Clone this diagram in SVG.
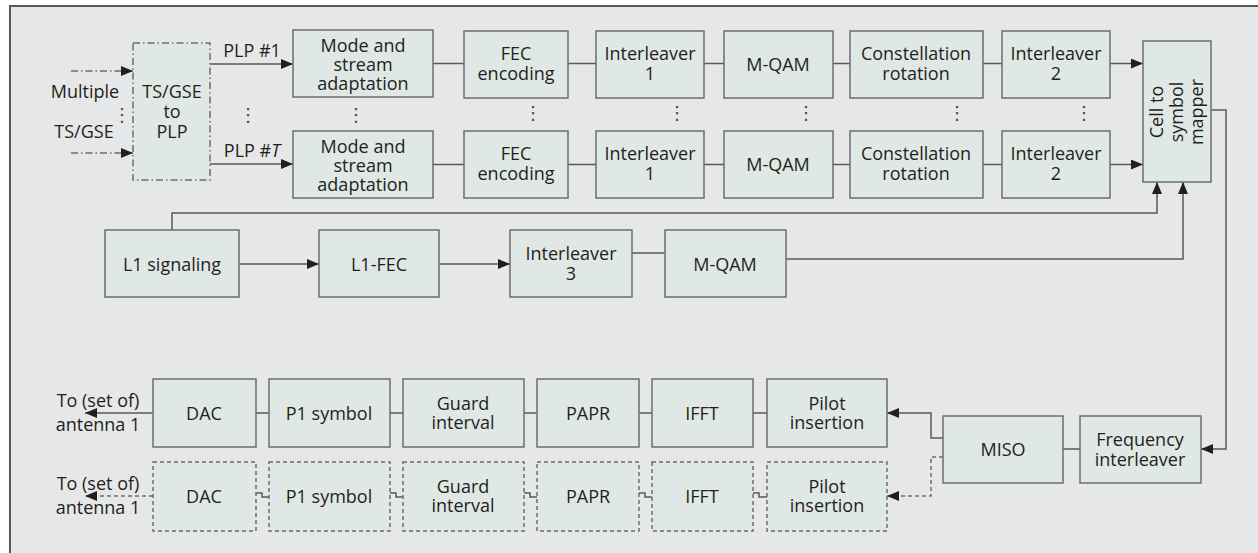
<svg xmlns="http://www.w3.org/2000/svg" width="1258" height="553" viewBox="0 0 1258 553">
  <defs>
    <marker id="arrow" markerUnits="userSpaceOnUse" markerWidth="13" markerHeight="10" refX="12" refY="5" orient="auto">
      <path d="M0,0 L12,5 L0,10 z" fill="#231f20"/>
    </marker>
    <style>
      .box { fill: #dfe8e4; stroke: #6d6e71; stroke-width: 1.5; }
      .dbox { fill: #dfe8e4; stroke: #6d6e71; stroke-width: 1.5; stroke-dasharray: 4 3; }
      .ddbox { fill: #dfe8e4; stroke: #6d6e71; stroke-width: 1.5; stroke-dasharray: 7 3 1.5 3; }
      .ln { fill: none; stroke: #58595b; stroke-width: 1.5; }
      .dln { fill: none; stroke: #6d6e71; stroke-width: 1.5; stroke-dasharray: 4 3; }
      .ddln { fill: none; stroke: #6d6e71; stroke-width: 1.5; stroke-dasharray: 7 3 1.5 3; }
      text { font-family: "Open Sans", "Noto Sans", sans-serif; font-size: 18px; fill: #231f20; text-anchor: middle; }
      .dots { font-family: "DejaVu Sans", sans-serif; font-size: 18px; fill: #414042; }
    </style>
  </defs>

  <!-- panel background and frame -->
  <rect x="0" y="0" width="1258" height="553" fill="#ffffff"/>
  <rect x="10" y="6" width="1248" height="547" fill="#e6e7e8"/>
  <path d="M10,553 V6 H1258" fill="none" stroke="#58595b" stroke-width="2"/>

  <!-- connectors -->
  <g id="connectors">
    <!-- inputs -->
    <path class="ddln" d="M71,71 H133" marker-end="url(#arrow)"/>
    <path class="ddln" d="M71,153 H133" marker-end="url(#arrow)"/>
    <!-- PLP outputs -->
    <path class="ln" d="M210,64 H293" marker-end="url(#arrow)"/>
    <path class="ln" d="M210,164 H293" marker-end="url(#arrow)"/>
    <!-- PLP chain 1 -->
    <path class="ln" d="M433,63.5 H464 M568,63.5 H596 M704,63.5 H724 M833,63.5 H850 M983,63.5 H1002"/>
    <path class="ln" d="M1110,63.5 H1143" marker-end="url(#arrow)"/>
    <!-- PLP chain T -->
    <path class="ln" d="M433,164.5 H464 M568,164.5 H596 M704,164.5 H724 M833,164.5 H850 M983,164.5 H1002"/>
    <path class="ln" d="M1110,164.5 H1143" marker-end="url(#arrow)"/>
    <!-- L1 path -->
    <path class="ln" d="M172,230 V213 H1157 V182" marker-end="url(#arrow)"/>
    <path class="ln" d="M239,264 H319" marker-end="url(#arrow)"/>
    <path class="ln" d="M439,264 H510" marker-end="url(#arrow)"/>
    <path class="ln" d="M632,253 H665"/>
    <path class="ln" d="M786,259 H1183 V182" marker-end="url(#arrow)"/>
    <!-- mapper to frequency interleaver -->
    <path class="ln" d="M1211,110 H1226 V449 H1201" marker-end="url(#arrow)"/>
    <path class="ln" d="M1063,449 H1080"/>
    <!-- MISO outputs -->
    <path class="ln" d="M943,438 H931 V413 H887" marker-end="url(#arrow)"/>
    <path class="dln" d="M943,457 H931 V496 H887" marker-end="url(#arrow)"/>
    <!-- transmitter chain 1 -->
    <path class="ln" d="M256,413 H269 M390,413 H403 M524,413 H537 M639,413 H652 M753,413 H767"/>
    <path class="ln" d="M153,413 H85" marker-end="url(#arrow)"/>
    <!-- transmitter chain 2 -->
    <path class="ln" d="M256,493 H262 V497 H269 M390,493 H396 V497 H403 M524,493 H530 V497 H537 M639,493 H645 V497 H652 M753,493 H759 V497 H767"/>
    <path class="dln" d="M153,496 H85" marker-end="url(#arrow)"/>
  </g>

  <!-- input labels -->
  <g id="inputs">
    <text x="85" y="98">Multiple</text>
    <text x="84" y="138">TS/GSE</text>
    <text class="dots" x="122" y="121">⋮</text>
  </g>

  <g id="ts-gse-to-plp">
    <rect class="ddbox" x="133" y="43" width="77" height="137"/>
    <text x="172" y="98">TS/GSE</text>
    <text x="172" y="118">to</text>
    <text x="172" y="138">PLP</text>
  </g>

  <g id="plp-labels">
    <text x="252" y="57">PLP #1</text>
    <text x="252" y="157">PLP #<tspan font-style="italic">T</tspan></text>
    <text class="dots" x="248" y="121">⋮</text>
  </g>

  <!-- PLP chain 1 -->
  <g id="mode-1">
    <rect class="box" x="293" y="30" width="140" height="67"/>
    <text x="363" y="52">Mode and</text>
    <text x="363" y="71">stream</text>
    <text x="363" y="90">adaptation</text>
  </g>
  <g id="fec-1">
    <rect class="box" x="464" y="31" width="104" height="67"/>
    <text x="516" y="60">FEC</text>
    <text x="516" y="80">encoding</text>
  </g>
  <g id="interleaver1-1">
    <rect class="box" x="596" y="31" width="108" height="67"/>
    <text x="650" y="60">Interleaver</text>
    <text x="650" y="80">1</text>
  </g>
  <g id="mqam-1">
    <rect class="box" x="724" y="31" width="109" height="67"/>
    <text x="778" y="71">M-QAM</text>
  </g>
  <g id="rotation-1">
    <rect class="box" x="850" y="31" width="133" height="67"/>
    <text x="916" y="60">Constellation</text>
    <text x="916" y="80">rotation</text>
  </g>
  <g id="interleaver2-1">
    <rect class="box" x="1002" y="31" width="108" height="67"/>
    <text x="1056" y="60">Interleaver</text>
    <text x="1056" y="80">2</text>
  </g>

  <!-- row separators -->
  <g id="ellipses">
    <text class="dots" x="356" y="121">⋮</text>
    <text class="dots" x="533" y="119">⋮</text>
    <text class="dots" x="677" y="119">⋮</text>
    <text class="dots" x="806" y="119">⋮</text>
    <text class="dots" x="957" y="119">⋮</text>
    <text class="dots" x="1084" y="119">⋮</text>
  </g>

  <!-- PLP chain T -->
  <g id="mode-t">
    <rect class="box" x="293" y="131" width="140" height="67"/>
    <text x="363" y="153">Mode and</text>
    <text x="363" y="172">stream</text>
    <text x="363" y="191">adaptation</text>
  </g>
  <g id="fec-t">
    <rect class="box" x="464" y="131" width="104" height="67"/>
    <text x="516" y="160">FEC</text>
    <text x="516" y="180">encoding</text>
  </g>
  <g id="interleaver1-t">
    <rect class="box" x="596" y="131" width="108" height="67"/>
    <text x="650" y="160">Interleaver</text>
    <text x="650" y="180">1</text>
  </g>
  <g id="mqam-t">
    <rect class="box" x="724" y="131" width="109" height="67"/>
    <text x="778" y="171">M-QAM</text>
  </g>
  <g id="rotation-t">
    <rect class="box" x="850" y="131" width="133" height="67"/>
    <text x="916" y="160">Constellation</text>
    <text x="916" y="180">rotation</text>
  </g>
  <g id="interleaver2-t">
    <rect class="box" x="1002" y="131" width="108" height="67"/>
    <text x="1056" y="160">Interleaver</text>
    <text x="1056" y="180">2</text>
  </g>

  <g id="cell-mapper">
    <rect class="box" x="1143" y="41" width="68" height="141"/>
    <text transform="translate(1163,112) rotate(-90)">Cell to</text>
    <text transform="translate(1183,112) rotate(-90)">symbol</text>
    <text transform="translate(1203,112) rotate(-90)">mapper</text>
  </g>

  <!-- L1 signalling path -->
  <g id="l1-signaling">
    <rect class="box" x="105" y="230" width="134" height="67"/>
    <text x="172" y="271">L1 signaling</text>
  </g>
  <g id="l1-fec">
    <rect class="box" x="319" y="230" width="120" height="67"/>
    <text x="379" y="271">L1-FEC</text>
  </g>
  <g id="interleaver3">
    <rect class="box" x="510" y="230" width="122" height="67"/>
    <text x="571" y="260">Interleaver</text>
    <text x="571" y="280">3</text>
  </g>
  <g id="mqam-l1">
    <rect class="box" x="665" y="230" width="121" height="67"/>
    <text x="725" y="271">M-QAM</text>
  </g>

  <!-- OFDM stage -->
  <g id="freq-interleaver">
    <rect class="box" x="1080" y="416" width="121" height="67"/>
    <text x="1140" y="446">Frequency</text>
    <text x="1140" y="466">interleaver</text>
  </g>
  <g id="miso">
    <rect class="box" x="943" y="416" width="120" height="67"/>
    <text x="1003" y="456">MISO</text>
  </g>

  <!-- transmitter chain 1 -->
  <g id="antenna-1">
    <text x="98" y="407">To (set of)</text>
    <text x="98" y="431">antenna 1</text>
  </g>
  <g id="dac-1">
    <rect class="box" x="153" y="379" width="103" height="68"/>
    <text x="204" y="420">DAC</text>
  </g>
  <g id="p1-1">
    <rect class="box" x="269" y="379" width="121" height="68"/>
    <text x="329" y="420">P1 symbol</text>
  </g>
  <g id="guard-1">
    <rect class="box" x="403" y="379" width="121" height="68"/>
    <text x="463" y="410">Guard</text>
    <text x="463" y="429">interval</text>
  </g>
  <g id="papr-1">
    <rect class="box" x="537" y="379" width="102" height="68"/>
    <text x="588" y="420">PAPR</text>
  </g>
  <g id="ifft-1">
    <rect class="box" x="652" y="379" width="101" height="68"/>
    <text x="702" y="420">IFFT</text>
  </g>
  <g id="pilot-1">
    <rect class="box" x="767" y="379" width="120" height="68"/>
    <text x="827" y="410">Pilot</text>
    <text x="827" y="429">insertion</text>
  </g>

  <!-- transmitter chain 2 -->
  <g id="antenna-2">
    <text x="98" y="490">To (set of)</text>
    <text x="98" y="514">antenna 1</text>
  </g>
  <g id="dac-2">
    <rect class="dbox" x="153" y="462" width="103" height="69"/>
    <text x="204" y="503">DAC</text>
  </g>
  <g id="p1-2">
    <rect class="dbox" x="269" y="462" width="121" height="69"/>
    <text x="329" y="503">P1 symbol</text>
  </g>
  <g id="guard-2">
    <rect class="dbox" x="403" y="462" width="121" height="69"/>
    <text x="463" y="493">Guard</text>
    <text x="463" y="512">interval</text>
  </g>
  <g id="papr-2">
    <rect class="dbox" x="537" y="462" width="102" height="69"/>
    <text x="588" y="503">PAPR</text>
  </g>
  <g id="ifft-2">
    <rect class="dbox" x="652" y="462" width="101" height="69"/>
    <text x="702" y="503">IFFT</text>
  </g>
  <g id="pilot-2">
    <rect class="dbox" x="767" y="462" width="120" height="69"/>
    <text x="827" y="493">Pilot</text>
    <text x="827" y="512">insertion</text>
  </g>
</svg>
